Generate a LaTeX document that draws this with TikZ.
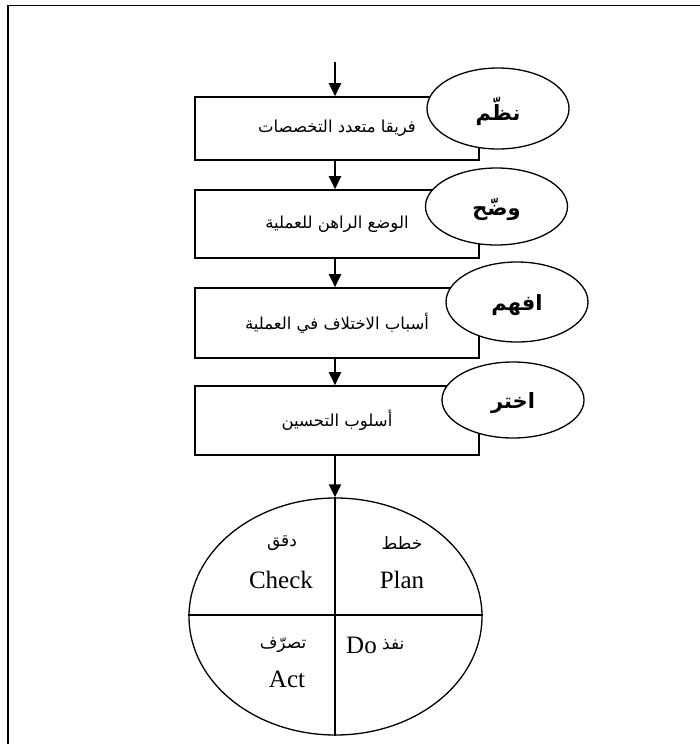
\documentclass[tikz,border=0pt]{standalone}
\usepackage{fontspec}
\setmainfont{Liberation Serif}
\newfontfamily\arabicfont[Script=Arabic]{DejaVu Sans}
\TeXXeTstate=1
\usetikzlibrary{arrows.meta,shapes.geometric}
\newcommand{\ar}[1]{{\arabicfont\beginR #1\endR}}
\begin{document}
\begin{tikzpicture}[x=1pt,y=-1pt,
  stepbox/.style={draw,line width=1.6pt,rectangle,minimum width=284pt,inner sep=0pt,font=\fontsize{16.5}{18}\selectfont},
  tag/.style={draw,line width=1.3pt,ellipse,fill=white,minimum width=142pt,inner sep=0pt},
  taglabel/.style={font=\fontsize{21}{23}\selectfont\bfseries,inner sep=0pt},
  flow/.style={line width=2pt,-{Triangle[width=12pt,length=13pt]}},
  en/.style={font=\fontsize{25}{27}\selectfont,inner sep=0pt},
  arl/.style={font=\fontsize{17}{19}\selectfont,inner sep=0pt}]
\useasboundingbox (0,0) rectangle (699,744);
% frame
\draw[line width=1.8pt] (8,760) -- (8,5.5) -- (720,5.5);
% boxes
\node[stepbox,minimum height=63pt] (b1) at (337,128.5) {\ar{فريقا متعدد التخصصات}};
\node[stepbox,minimum height=68pt] (b2) at (337,224) {\ar{الوضع الراهن للعملية}};
\node[stepbox,minimum height=70pt] (b3) at (337,323) {\ar{أسباب الاختلاف في العملية}};
\node[stepbox,minimum height=69pt] (b4) at (337,420.5) {\ar{أسلوب التحسين}};
% tags
\node[tag,minimum height=81pt] (e1) at (498,108.5) {};
\node[tag,minimum height=77pt] (e2) at (496.5,206.5) {};
\node[tag,minimum height=80pt] (e3) at (517,302) {};
\node[tag,minimum height=76pt] (e4) at (513,400) {};
\node[taglabel] (l1) at ([yshift=-3pt]e1.center) {\ar{نظّم}};
\node[taglabel] (l2) at ([yshift=-3pt]e2.center) {\ar{وضّح}};
\node[taglabel] (l3) at ([yshift=-3pt]e3.center) {\ar{افهم}};
\node[taglabel] (l4) at ([yshift=-3pt]e4.center) {\ar{اختر}};
% PDCA circle
\node[draw,line width=1.3pt,ellipse,minimum width=293pt,minimum height=237pt,inner sep=0pt] (c) at (335.5,616.5) {};
\coordinate (top) at (335,62);
\draw[flow] (top) -- (b1.north -| top);
\draw[flow] (b1.south -| top) -- (b2.north -| top);
\draw[flow] (b2.south -| top) -- (b3.north -| top);
\draw[flow] (b3.south -| top) -- (b4.north -| top);
\draw[flow] (b4.south -| top) -- (c.north -| top);
\draw[line width=1.6pt] (c.north -| top) -- (c.south -| top);
\coordinate (hl) at (188,615);
\draw[line width=1.6pt] (hl) -- (c.east |- hl);
% quadrant texts
\node[arl] (t1) at (282,543) {\ar{دقق}};
\node[en] (t2) at (281,580) {Check};
\node[arl] (t3) at (402,543) {\ar{خطط}};
\node[en] (t4) at (402,580) {Plan};
\node[arl] (t5) at (283,645) {\ar{تصرّف}};
\node[en] (t6) at (287,679) {Act};
\node[en,anchor=west] (t7) at (346,645) {Do};
\node[arl,anchor=west] (t8) at ([xshift=5pt]t7.east) {\ar{نفذ}};
\end{tikzpicture}
\end{document}
